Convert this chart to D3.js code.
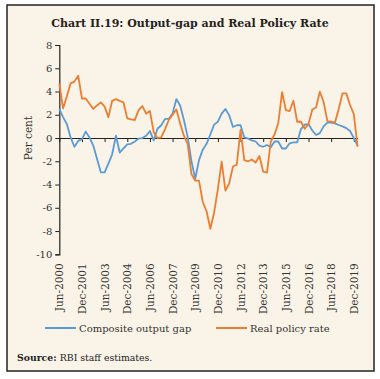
<!DOCTYPE html>
<html><head><meta charset="utf-8">
<script src="https://cdn.jsdelivr.net/npm/d3@7"></script>
<style>
html,body{margin:0;padding:0;background:#fff;}
svg{display:block;}
</style></head>
<body>
<script>
// ---- data ----
const outputGap = [2.5,1.8,1.2,0.05,-0.75,-0.25,-0.1,0.55,0.05,-0.65,
  -1.8,-2.95,-2.95,-2.2,-1.4,0.2,-1.25,-0.9,-0.55,-0.5,
  -0.3,-0.05,0.0,0.2,0.6,-0.2,0.8,1.1,1.65,1.65,
  2.1,3.35,2.8,1.55,0.1,-2.0,-3.5,-1.9,-1.0,-0.5,
  0.3,1.15,1.4,2.1,2.5,1.95,0.95,1.1,1.1,0.05,
  -0.05,-0.2,-0.3,-0.65,-0.75,-0.6,-0.8,-0.3,-0.3,-0.9,
  -0.9,-0.45,-0.37,-0.37,0.77,1.15,1.2,0.65,0.26,0.42,
  1.0,1.32,1.32,1.26,1.12,1.0,0.85,0.6,0.0,-0.65];
const realPolicyRate = [4.7,2.55,3.6,4.7,4.85,5.36,3.4,3.4,2.95,2.5,
  2.8,3.07,2.7,1.8,3.2,3.35,3.2,3.07,1.69,1.6,
  1.55,2.4,2.75,2.1,2.32,0.5,0.0,0.05,0.77,1.55,
  2.0,2.46,1.26,0.2,-0.5,-3.1,-3.67,-3.67,-5.5,-6.3,
  -7.8,-6.4,-4.4,-2.04,-4.53,-3.9,-2.45,-2.3,0.7,-1.9,
  -2.0,-1.85,-2.12,-1.55,-2.9,-2.98,-0.32,0.3,1.3,3.95,
  2.4,2.32,3.2,1.4,1.4,0.8,1.2,2.45,2.62,3.98,
  3.1,1.45,1.4,1.33,2.5,3.84,3.84,2.84,2.05,-0.75];
const tickLabels = ["Jun-2000","Dec-2001","Jun-2003","Dec-2004","Jun-2006","Dec-2007","Jun-2009",
  "Dec-2010","Jun-2012","Dec-2013","Jun-2015","Dec-2016","Jun-2018","Dec-2019"];
const yTicks = [8,6,4,2,0,-2,-4,-6,-8,-10];
const seriesNames = ["Composite output gap","Real policy rate"];
const colors = ["#5B9BD5","#ED7D31"];

// ---- layout ----
const W = 380, H = 379;
const svg = d3.select("body").append("svg").attr("width", W).attr("height", H);
svg.append("rect").attr("x",7).attr("y",5).attr("width",367).attr("height",366)
  .attr("fill","#FAF3E7").attr("stroke","#222").attr("stroke-width",1.5);

const font = "'DejaVu Serif', serif";
svg.append("text").attr("x",190).attr("y",27).attr("text-anchor","middle")
  .attr("font-family",font).attr("font-weight","bold").attr("font-size",11)
  .attr("fill","#222").text("Chart II.19: Output-gap and Real Policy Rate");

const n = outputGap.length;
const x = d3.scaleLinear().domain([0, n-1]).range([59.3, 357.6]);
const y = d3.scaleLinear().domain([-10, 8]).range([254.3, 45]);

// y axis
const yAxis = svg.append("g").attr("transform","translate(59.3,0)")
  .call(d3.axisLeft(y).tickValues(yTicks).tickSize(4).tickPadding(3).tickFormat(d=>String(d)));
yAxis.select(".domain").attr("stroke","#222").attr("stroke-width",1.2);
yAxis.selectAll(".tick line").attr("stroke","#222");
yAxis.selectAll("text").attr("font-family",font).attr("font-size",10).attr("fill","#333");

svg.append("text").attr("transform","translate(32,"+y(0)+") rotate(-90)")
  .attr("text-anchor","middle").attr("font-family",font).attr("font-size",10.5)
  .attr("fill","#333").text("Per cent");

// x axis at zero
const tickIdx = tickLabels.map((d,i)=>i*6);
const xAxis = svg.append("g").attr("transform","translate(0,"+y(0)+")")
  .call(d3.axisBottom(x).tickValues(tickIdx).tickSize(4).tickSizeOuter(0).tickFormat(""));
xAxis.select(".domain").attr("stroke","#222").attr("stroke-width",1.2);
xAxis.selectAll(".tick line").attr("stroke","#222");

// x labels at bottom
const xLab = svg.append("g").attr("transform","translate(0,"+(y(-10)+6)+")")
  .call(d3.axisBottom(x).tickValues(tickIdx).tickSize(0).tickFormat((d,i)=>tickLabels[i]));
xLab.select(".domain").remove();
xLab.selectAll("text").attr("font-family",font).attr("font-size",10.5).attr("fill","#333")
  .attr("transform","rotate(-90)").attr("text-anchor","end").attr("dy","0.35em").attr("x",-3).attr("y",0);

// lines
const line = d3.line().x((d,i)=>x(i)).y(d=>y(d));
[outputGap, realPolicyRate].forEach((s,k)=>{
  svg.append("path").datum(s).attr("d",line).attr("fill","none")
    .attr("stroke",colors[k]).attr("stroke-width",1.8).attr("stroke-linejoin","round");
});
// legend
const legX = [45, 216];
seriesNames.forEach((name,k)=>{
  svg.append("line").attr("x1",legX[k]).attr("x2",legX[k]+31).attr("y1",328).attr("y2",328)
    .attr("stroke",colors[k]).attr("stroke-width",2);
  svg.append("text").attr("x",legX[k]+34).attr("y",331.5).attr("font-family",font)
    .attr("font-size",10).attr("fill","#333").text(name);
});
const src = svg.append("text").attr("x",17).attr("y",361).attr("font-family",font)
  .attr("font-size",9.3).attr("fill","#222");
src.append("tspan").attr("font-weight","bold").text("Source: ");
src.append("tspan").text("RBI staff estimates.");
</script>
</body></html>
